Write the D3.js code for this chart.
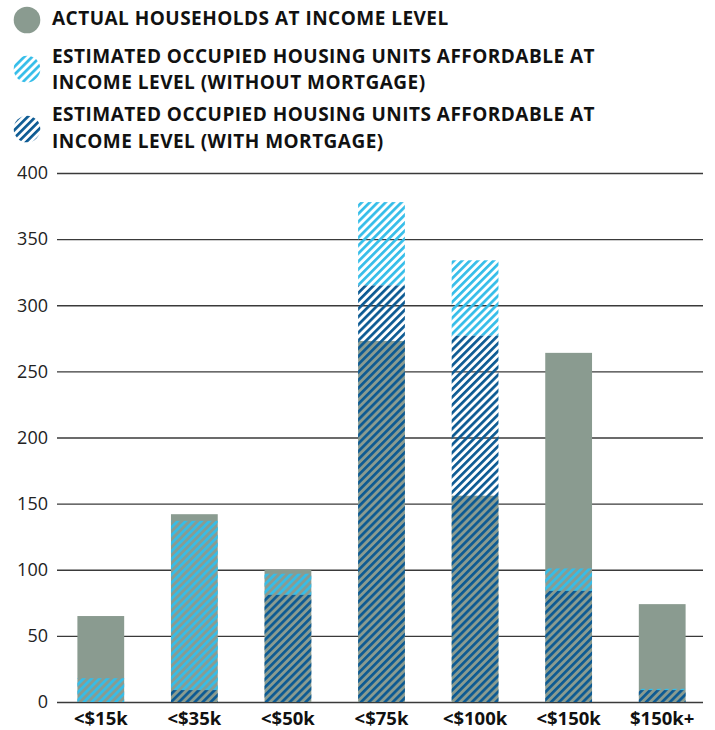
<!DOCTYPE html>
<html>
<head>
<meta charset="utf-8">
<script src="https://cdn.jsdelivr.net/npm/d3@7"></script>
<style>
  html, body { margin: 0; padding: 0; background: #fff; }
  text { font-family: "Open Sans", "Noto Sans", sans-serif; }
</style>
</head>
<body>
<script>
const categories = ["<$15k", "<$35k", "<$50k", "<$75k", "<$100k", "<$150k", "$150k+"];
const actualHouseholds = [65, 142, 100, 273, 156, 264, 74];
const affordableWithoutMortgage = [18, 137, 97, 378, 334, 101, 10];
const affordableWithMortgage = [0, 9, 81, 315, 277, 84, 9];
const yTicks = [0, 50, 100, 150, 200, 250, 300, 350, 400];
const legendLabels = [
  ["ACTUAL HOUSEHOLDS AT INCOME LEVEL"],
  ["ESTIMATED OCCUPIED HOUSING UNITS AFFORDABLE AT", "INCOME LEVEL (WITHOUT MORTGAGE)"],
  ["ESTIMATED OCCUPIED HOUSING UNITS AFFORDABLE AT", "INCOME LEVEL (WITH MORTGAGE)"]
];

const W = 715, H = 730;
const GRAY = "#8a9b90", LIGHT = "#35bde9", DARK = "#0c5a93";

const svg = d3.select("body").append("svg").attr("width", W).attr("height", H);
const defs = svg.append("defs");
function stripe(id, color) {
  const p = defs.append("pattern").attr("id", id)
    .attr("patternUnits", "userSpaceOnUse")
    .attr("width", 5.6).attr("height", 6)
    .attr("patternTransform", "rotate(45)");
  p.append("rect").attr("x", 0).attr("y", 0).attr("width", 2.7).attr("height", 6).attr("fill", color);
}
stripe("lightStripe", LIGHT);
stripe("darkStripe", DARK);

const x = d3.scaleBand().domain(categories).range([54, 709]).paddingInner(0.5).paddingOuter(0.25);
const y = d3.scaleLinear().domain([0, 400]).range([702, 173]);

// grid + y axis
const yAxis = d3.axisLeft(y).tickValues(yTicks).tickSize(-(703 - 57)).tickPadding(9);
const gy = svg.append("g").attr("transform", "translate(57,0)").call(yAxis);
gy.select(".domain").remove();
gy.selectAll(".tick line").attr("stroke", "#3a3a3a").attr("stroke-width", 1.3);
gy.selectAll(".tick text").attr("font-size", 18).attr("fill", "#222")
  .attr("font-family", "'Open Sans', sans-serif");

const data = categories.map((c, i) => ({
  c, a: actualHouseholds[i], l: affordableWithoutMortgage[i], d: affordableWithMortgage[i]
}));

const bars = svg.append("g");
bars.selectAll("rect.actual").data(data).join("rect").attr("class", "actual")
  .attr("x", d => x(d.c)).attr("width", x.bandwidth())
  .attr("y", d => y(d.a)).attr("height", d => y(0) - y(d.a))
  .attr("fill", GRAY);
bars.selectAll("rect.light").data(data).join("rect").attr("class", "light")
  .attr("x", d => x(d.c)).attr("width", x.bandwidth())
  .attr("y", d => y(d.l)).attr("height", d => Math.max(0, y(d.d) - y(d.l)))
  .attr("fill", "url(#lightStripe)");
bars.selectAll("rect.dark").data(data.filter(d => d.d > 0)).join("rect").attr("class", "dark")
  .attr("x", d => x(d.c)).attr("width", x.bandwidth())
  .attr("y", d => y(d.d)).attr("height", d => y(0) - y(d.d))
  .attr("fill", "url(#darkStripe)");

// x labels
const xAxis = d3.axisBottom(x).tickSize(0).tickPadding(10);
const gx = svg.append("g").attr("transform", "translate(0,702)").call(xAxis);
gx.select(".domain").remove();
gx.selectAll(".tick text").attr("font-size", 18.5).attr("font-weight", 700).attr("fill", "#111")
  .attr("font-family", "'Open Sans', sans-serif");

// legend
const legend = svg.append("g");
const legendY = [20, 69, 129];
const lineBase = [[25], [64, 87.3], [122.7, 146]];
const fills = [GRAY, "url(#lightStripe)", "url(#darkStripe)"];
const groups = [];
legendLabels.forEach((lines, i) => {
  legend.append("circle").attr("cx", 27).attr("cy", legendY[i]).attr("r", 13.3).attr("fill", fills[i]);
  groups.push(lines.map((line, j) => legend.append("text").attr("x", 52).attr("y", lineBase[i][j])
      .attr("font-family", "Lato, 'Open Sans', sans-serif")
      .attr("font-size", 19).attr("font-weight", 700).attr("fill", "#111").text(line)));
});
// widen letter spacing so the long line spans like the reference (~543px)
const all = groups.flat();
const ref = groups[1][0].node().getComputedTextLength();
const ls = Math.max(0, (543 - ref) / legendLabels[1][0].length);
all.forEach(t => t.attr("letter-spacing", ls));
// keep two-line entries from overlapping: spacing at least the text box height
const boxH = groups[1][0].node().getBBox().height;
groups.forEach((g, i) => {
  if (g.length === 2) {
    const mid = (lineBase[i][0] + lineBase[i][1]) / 2;
    const gap = Math.max(23.3, boxH + 0.3);
    g[0].attr("y", mid - gap / 2);
    g[1].attr("y", mid + gap / 2);
  }
});
</script>
</body>
</html>
